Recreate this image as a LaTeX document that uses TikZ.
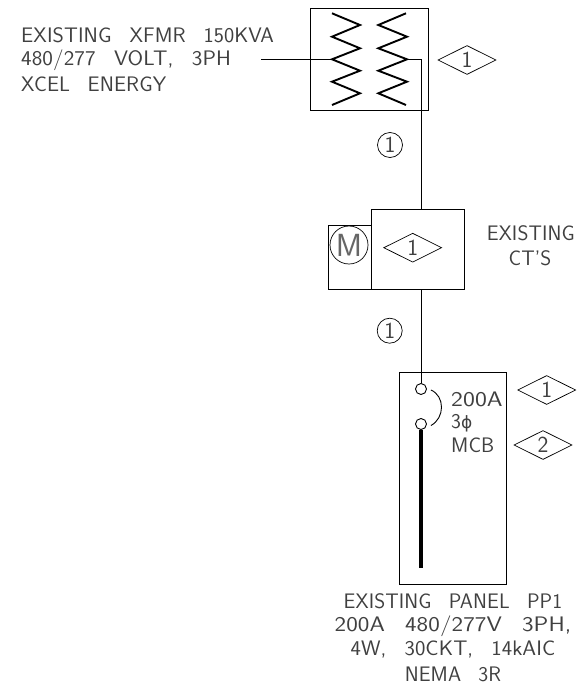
\documentclass[tikz,border=0pt]{standalone}
\usepackage{fontspec}
\setsansfont[FakeStretch=1.0,LetterSpace=0.4,WordSpace=2.6]{Latin Modern Sans}
\newfontfamily\phifont{DejaVu Sans}
\usetikzlibrary{shapes.geometric,calc}
\tikzset{
  wire/.style={line width=0.9pt,black},
  coilline/.style={line width=1.9pt,black,line join=miter},
  boxnode/.style={draw,line width=0.9pt,inner sep=0pt,anchor=north west},
  tag/.style={draw,diamond,aspect=2,line width=0.7pt,minimum width=58pt,minimum height=29pt,inner sep=0pt,font=\tagfont,text=black!75},
  ref/.style={draw,circle,line width=0.7pt,minimum size=25pt,inner sep=0pt,font=\tagfont,text=black!75},
  lbl/.style={inner sep=0pt,font=\lblfont,text=black!75},
}
\newcommand{\lblfont}{\sffamily\fontsize{21}{24.5}\selectfont}
\newcommand{\tagfont}{\sffamily\fontsize{23}{24.5}\selectfont}
\newcommand{\wider}[1]{\addfontfeature{FakeStretch=#1}}
\begin{document}
\begin{tikzpicture}[x=1pt,y=-1pt]
\useasboundingbox (0,0) rectangle (579,685);
% transformer
\node[boxnode,minimum width=118.5pt,minimum height=102pt] (xfmr) at (309.5,8) {};
\draw[coilline] (332,13.3) -- (360,25) -- (332,36.7) -- (360,48.3) -- (332,59.3) coordinate (coilL) -- (360,70.7) -- (332,81.7) -- (360,93.3) -- (332,105);
\draw[coilline] (406,13.3) -- (378.3,25) -- (407,36.7) -- (378.3,48.3) -- (407,59.3) coordinate (coilR) -- (378.3,70.7) -- (407,81.7) -- (378.3,93.3) -- (406,105);
\node[tag] (d1) at (467,60) {1};
% labels upper left
\node[lbl,anchor=west] (t1) at (21,35) {\wider{1.03}EXISTING XFMR 150KVA};
\node[lbl,anchor=west] (t2) at (21,60) {\wider{1.07}480/277 VOLT, 3PH};
\node[lbl,anchor=west] (t3) at (21,84) {\wider{1.02}XCEL ENERGY};
\coordinate (lead) at (261,59.3);
\draw[wire] (lead) -- (coilL);
% meter and CT
\node[boxnode,minimum width=93.3pt,minimum height=80pt] (ct) at (370.7,209) {};
\node[boxnode,minimum width=43.2pt,minimum height=64pt] (mbox) at (327.5,225) {};
\node[ref,minimum size=38pt,font=\sffamily\fontsize{32}{32}\selectfont,text=black!60] (m) at (349,245) {M};
\node[tag] (d2) at (412.7,247.7) {1};
\node[lbl,anchor=east] (t4) at (575,233) {EXISTING};
\node[lbl] (t5) at (530,258) {CT'S};
% refs
\node[ref] (r1) at (390,145) {1};
\node[ref] (r2) at (389.7,330.7) {1};
% panel
\node[boxnode,minimum width=106.7pt,minimum height=212.3pt] (panel) at (399.3,371.7) {};
\node[draw,circle,line width=0.9pt,minimum size=11pt,inner sep=0pt] (c1) at (421,389) {};
\node[draw,circle,line width=0.9pt,minimum size=11pt,inner sep=0pt] (c2) at (421,424) {};
\coordinate (busend) at (421,568);
\draw[wire] (coilR) -- (coilR -| c1) -- (ct.north -| c1);
\draw[wire] (ct.south -| c1) -- (c1.north);
\draw[line width=4pt] (c2.south) -- (busend);
\draw[line width=0.9pt] (c1.east) ++(4,1) .. controls (445,396) and (445,418) .. ($(c2.east)+(4,1.5)$);
\node[lbl,anchor=west] (t6) at (451,399) {\wider{1.2}200A};
\node[lbl,anchor=west] (t7) at (451,423) {3{\phifont\fontsize{17}{20}\selectfont ϕ}};
\node[lbl,anchor=west] (t8) at (451,445) {MCB};
\node[tag] (d3) at (546.7,390) {1};
\node[tag] (d4) at (543,445) {2};
% panel notes
\node[lbl] (t9) at (453,601.7) {EXISTING PANEL PP1};
\node[lbl] (t10) at (453,626.7) {\wider{1.17}200A 480/277V 3PH,};
\node[lbl] (t11) at (453,650) {\wider{1.05}4W, 30CKT, 14kAIC};
\node[lbl] (t12) at (453,674) {NEMA 3R};
\end{tikzpicture}
\end{document}
